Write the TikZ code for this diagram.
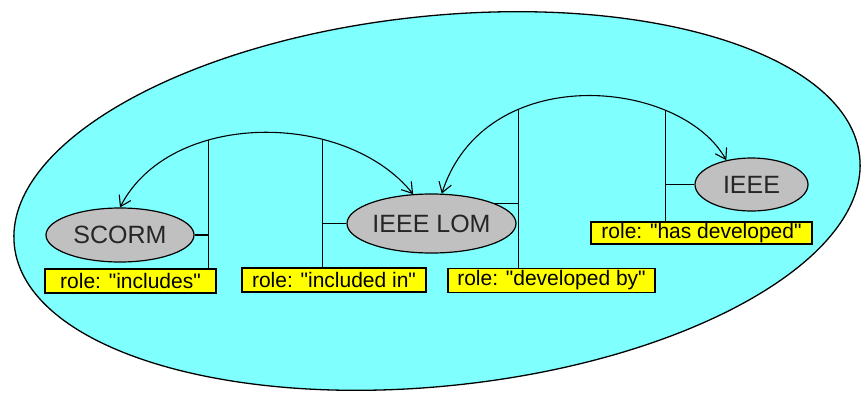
\documentclass[tikz,border=0pt]{standalone}
\usepackage{fontspec}
\setmainfont{Liberation Sans}
\usetikzlibrary{shapes.geometric,arrows.meta}
\definecolor{bgcyan}{RGB}{128,255,255}
\definecolor{ellgray}{RGB}{192,192,192}
\definecolor{boxyellow}{RGB}{255,255,0}
\newcommand{\qq}{\textquotedbl}
\begin{document}
\begin{tikzpicture}[x=1pt,y=-1pt,
  entity/.style={ellipse,draw=black,line width=1.2pt,fill=ellgray,inner sep=0pt,
    font=\fontsize{25}{28}\selectfont,text=black!85},
  rolebox/.style={rectangle,draw=black,line width=1.2pt,fill=boxyellow,inner sep=0pt,
    minimum height=24pt,font=\fontsize{21}{24}\selectfont},
  link/.style={line width=1.2pt,black},
  rel/.style={line width=1.1pt,black,{Straight Barb[length=10pt,width=13pt]}-{Straight Barb[length=10pt,width=13pt]}}
]
\useasboundingbox (0,0) rectangle (862,394);
\fill[white] (0,0) rectangle (862,394);
\node[ellipse,draw=black,line width=1.3pt,fill=bgcyan,minimum width=850pt,minimum height=370pt,rotate=6] (bg) at (437,201) {};

\node[entity,minimum width=148pt,minimum height=54pt] (scorm) at (120,235) {SCORM};
\node[entity,minimum width=169pt,minimum height=59pt] (lom) at (431.5,223.5) {IEEE LOM};
\node[entity,minimum width=113pt,minimum height=53pt] (ieee) at (751.5,184.5) {IEEE};

\node[rolebox,minimum width=171pt] (inc) at (130.5,281) {role: \qq includes\qq};
\node[rolebox,minimum width=184pt] (incin) at (334,280) {role: \qq included in\qq};
\node[rolebox,minimum width=207pt] (devby) at (551.5,280.5) {role: \qq developed by\qq};
\node[rolebox,minimum width=221pt,minimum height=22pt] (hasdev) at (701.5,233) {role: \qq has developed\qq};

\draw[rel] (scorm.north) .. controls (170,110) and (345,110) .. (lom.122)
  coordinate[pos=0.35] (r1) coordinate[pos=0.68] (r2);
\draw[rel] (lom.71) .. controls (485,60) and (680,78) .. (ieee.136)
  coordinate[pos=0.315] (r3) coordinate[pos=0.74] (r4);

\draw[link] (r1) -- (r1 |- inc.north);
\draw[link] (scorm.east) -- (scorm.east -| r1);
\draw[link] (r2) -- (r2 |- incin.north);
\draw[link] (lom.west) -- (lom.west -| r2);
\draw[link] (r3) -- (r3 |- devby.north);
\draw[link] (lom.18) -- (lom.18 -| r3);
\draw[link] (r4) -- (r4 |- hasdev.north);
\draw[link] (ieee.west) -- (ieee.west -| r4);
\end{tikzpicture}
\end{document}
